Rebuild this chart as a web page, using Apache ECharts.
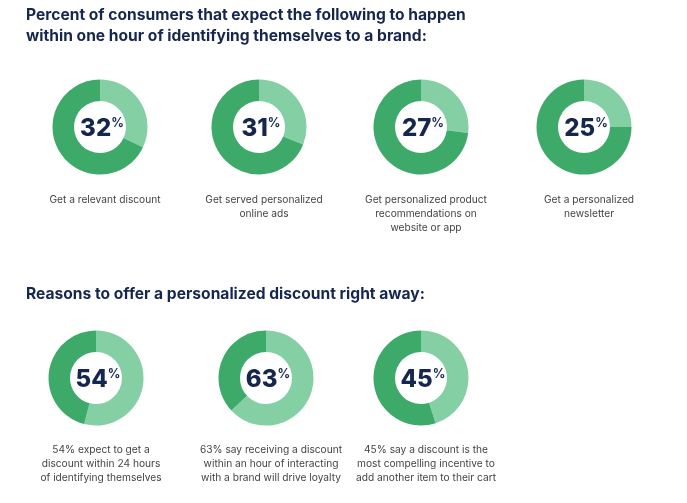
<!DOCTYPE html>
<html><head><meta charset="utf-8">
<script src="https://cdn.jsdelivr.net/npm/echarts@6/dist/echarts.min.js"></script>
<style>html,body{margin:0;padding:0;background:#fff}#c{width:687px;height:503px}</style>
</head><body><div id="c"></div>
<script>
const headings = [
  'Percent of consumers that expect the following to happen\nwithin one hour of identifying themselves to a brand:',
  'Reasons to offer a personalized discount right away:'
];
const topValues = [32, 31, 27, 25];
const topLabels = [
  'Get a relevant discount',
  'Get served personalized\nonline ads',
  'Get personalized product\nrecommendations on\nwebsite or app',
  'Get a personalized\nnewsletter'
];
const bottomValues = [54, 63, 45];
const bottomLabels = [
  '54% expect to get a\ndiscount within 24 hours\nof identifying themselves',
  '63% say receiving a discount\nwithin an hour of interacting\nwith a brand will drive loyalty',
  '45% say a discount is the\nmost compelling incentive to\nadd another item to their cart'
];

const LIGHT = '#84d0a4', DARK = '#3eaa69', NAVY = '#15264f';
const topX = [100, 259, 421, 584], topY = 127;
const botX = [96, 266, 421], botY = 378;

const series = [], titles = [];
const headStyle = {fontFamily:'Inter', fontWeight:'bold', fontSize:15.6, color:NAVY, lineHeight:21};
titles.push({text: headings[0], left: 21, top: 0, textStyle:headStyle});
titles.push({text: headings[1], left: 21, top: 279, textStyle:headStyle});

function addDonut(v, label, cx, cy, capTop) {
  series.push({
    type:'pie', center:[cx, cy], radius:[26, 47.5], startAngle:90, clockwise:true,
    silent:true, label:{show:false}, labelLine:{show:false},
    data:[{value:v, itemStyle:{color:LIGHT}}, {value:100 - v, itemStyle:{color:DARK}}]
  });
  titles.push({
    text:'{n|' + v + '}{p|%}', left:cx + 2, top:cy - 10, textAlign:'center', padding:0,
    textStyle:{rich:{
      n:{fontFamily:'Inter', fontWeight:800, fontSize:24, color:NAVY, lineHeight:24, verticalAlign:'middle'},
      p:{fontFamily:'Inter', fontWeight:'bold', fontSize:12.5, color:NAVY, lineHeight:24, verticalAlign:'top', padding:[0,0,8,0]}
    }}
  });
  titles.push({
    text:label, left:cx, top:capTop, textAlign:'center',
    textStyle:{fontFamily:'Inter', fontWeight:'normal', fontSize:10.2, color:'#444', lineHeight:14}
  });
}
topValues.forEach((v,i)=>addDonut(v, topLabels[i], topX[i], topY, 188));
bottomValues.forEach((v,i)=>addDonut(v, bottomLabels[i], botX[i], botY, 438));

const chart = echarts.init(document.getElementById('c'), null, {renderer:'canvas'});
chart.setOption({backgroundColor:'#fff', animation:false, title:titles, series:series});
</script></body></html>
